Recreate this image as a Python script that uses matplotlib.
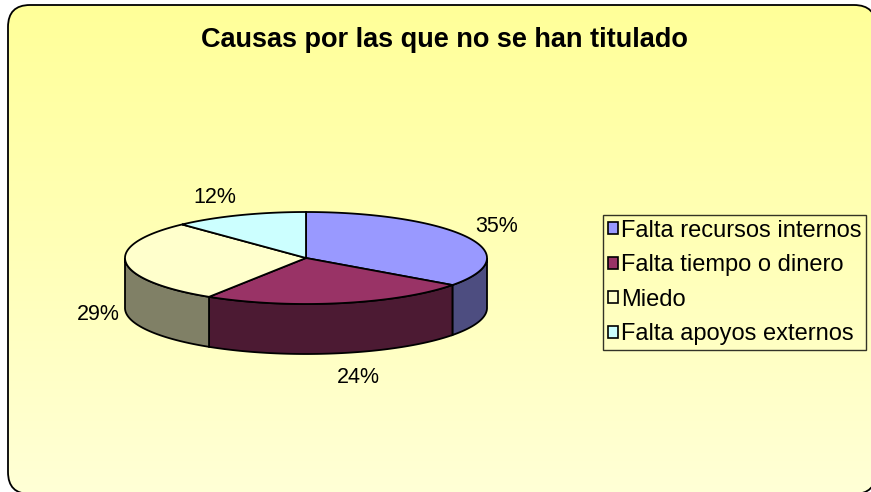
import numpy as np
import matplotlib
matplotlib.use("Agg")
import matplotlib.pyplot as plt
from matplotlib.patches import Polygon, FancyBboxPatch, Patch
from matplotlib.transforms import IdentityTransform

plt.rcParams['font.family'] = ['Liberation Sans', 'DejaVu Sans']

# datos
categorias = ['Falta recursos internos', 'Falta tiempo o dinero', 'Miedo', 'Falta apoyos externos']
valores = [35, 24, 29, 12]
etiquetas = ['35%', '24%', '29%', '12%']
col_sup = ['#9999FF', '#993366', '#FFFFCC', '#CCFFFF']
col_lado = ['#4D4D80', '#4C1A33', '#808066', '#668080']
titulo = 'Causas por las que no se han titulado'

W, H = 871, 492
fig = plt.figure(figsize=(W / 100, H / 100), dpi=100)
ax = fig.add_axes([0, 0, 1, 1])
ax.set_xlim(0, W)
ax.set_ylim(H, 0)
ax.axis('off')

# fondo degradado con borde redondeado (pixeles de pantalla, origen abajo)
# se pasa a poligono para que el recorte en el borde no deforme las curvas
redondo = FancyBboxPatch((8, H - 494), 868, 489, boxstyle="round,pad=0,rounding_size=22")
contorno = redondo.get_path().to_polygons()[0]
caja = Polygon(contorno, closed=True, transform=IdentityTransform(), facecolor='none',
               edgecolor='black', linewidth=1.3, zorder=3)
ax.add_artist(caja)
grad = np.linspace(0, 1, 256).reshape(-1, 1)
cmap = matplotlib.colors.LinearSegmentedColormap.from_list('f', ['#FFFF99', '#FFFFD6'])
img = ax.imshow(grad, extent=(8, 876, 494, 5), cmap=cmap, aspect='auto', zorder=0)
img.set_clip_path(caja)

ax.text(444, 40, titulo, ha='center', va='center', fontsize=19.5, fontweight='bold', zorder=5)

# tarta 3D
cx, cy, rx, ry, prof = 306, 258, 181, 46, 50
total = float(sum(valores))
bordes = np.concatenate([[0], np.cumsum(valores)]) / total * 2 * np.pi


def punto(t, dy=0):
    return cx + rx * np.sin(t), cy - ry * np.cos(t) + dy


# caras laterales (solo la mitad delantera, pi/2 .. 3pi/2)
for i in range(len(valores)):
    a0 = max(bordes[i], np.pi / 2)
    a1 = min(bordes[i + 1], 3 * np.pi / 2)
    if a1 <= a0:
        continue
    t = np.linspace(a0, a1, 80)
    xs, ys = punto(t)
    xb, yb = punto(t[::-1], prof)
    pts = np.column_stack([np.concatenate([xs, xb]), np.concatenate([ys, yb])])
    ax.add_patch(Polygon(pts, closed=True, facecolor=col_lado[i], edgecolor='black',
                         linewidth=1.3, zorder=2))

# cara superior
for i in range(len(valores)):
    t = np.linspace(bordes[i], bordes[i + 1], 120)
    xs, ys = punto(t)
    pts = np.column_stack([np.concatenate([[cx], xs]), np.concatenate([[cy], ys])])
    ax.add_patch(Polygon(pts, closed=True, facecolor=col_sup[i], edgecolor='black',
                         linewidth=1.3, zorder=4))

# etiquetas de porcentaje
ajuste = [(3, 1), (13, 1), (2, 45), (-14, 6)]
for i, et in enumerate(etiquetas):
    tm = (bordes[i] + bordes[i + 1]) / 2
    lx = cx + (rx + 30) * np.sin(tm) + ajuste[i][0]
    ly = cy - (ry + 25) * np.cos(tm) + prof * max(0, -np.cos(tm)) + ajuste[i][1]
    ax.text(lx, ly, et, ha='center', va='center', fontsize=15.5, zorder=5)

manejadores = [Patch(facecolor=c, edgecolor='black', linewidth=1.2) for c in col_sup]
ley = ax.legend(manejadores, categorias, loc='upper left',
                bbox_to_anchor=(603 / W, 1 - 215 / H), bbox_transform=fig.transFigure,
                fontsize=17, frameon=True, fancybox=False, handlelength=0.42,
                handleheight=0.42, handletextpad=0.14, labelspacing=0.53,
                borderpad=0.2, borderaxespad=0)
ley.get_frame().set_edgecolor('black')
ley.get_frame().set_facecolor('none')
ley.get_frame().set_linewidth(1.0)
ley.set_zorder(6)

fig.savefig('out.png', dpi=100)
